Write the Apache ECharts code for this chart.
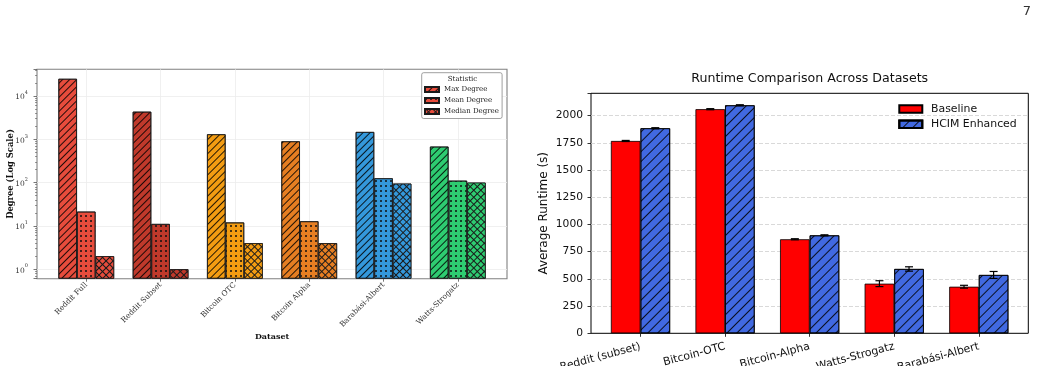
<!DOCTYPE html>
<html>
<head>
<meta charset="utf-8">
<script src="https://cdn.jsdelivr.net/npm/echarts@6/dist/echarts.min.js"></script>
<style>
  html, body { margin: 0; padding: 0; background: #fff; }
  #chart { width: 1040px; height: 366px; }
</style>
</head>
<body>
<div id="chart"></div>
<script>
  // left panel: degree statistics per dataset (log scale)
  const degreeDatasets = ['Reddit Full', 'Reddit Subset', 'Bitcoin OTC', 'Bitcoin Alpha', 'Barabási-Albert', 'Watts-Strogatz'];
  const datasetColors = ['#e74c3c', '#c0392b', '#f39c12', '#e67e22', '#3498db', '#2ecc71'];
  const maxDegree = [25000, 4350, 1310, 900, 1480, 680];
  const meanDegree = [21.4, 11.1, 12, 12.8, 126, 111];
  const medianDegree = [2, 1, 4, 4, 95, 100];
  const statNames = ['Max Degree', 'Mean Degree', 'Median Degree'];

  // right panel: runtime comparison
  const runtimeDatasets = ['Reddit (subset)', 'Bitcoin-OTC', 'Bitcoin-Alpha', 'Watts-Strogatz', 'Barabási-Albert'];
  const baselineRuntime = [1767, 2059, 864, 456, 428];
  const baselineErr = [5, 5, 5, 27, 13];
  const hcimRuntime = [1884, 2095, 900, 591, 536];
  const hcimErr = [5, 5, 5, 20, 32];
  const runtimeNames = ['Baseline', 'HCIM Enhanced'];

  const LOG_MIN = 0.603, LOG_MAX = 41450, RUN_MAX = 2205;
  const DEG_BAR_W = 18.58, RUN_BAR_W = 29.6;
  const serif = 'DejaVu Serif', sans = 'DejaVu Sans';

  const chart = echarts.init(document.getElementById('chart'));

  function diagDecal(gap) {
    return { symbol: 'rect', symbolSize: 1, color: 'rgba(0,0,0,0.85)', dashArrayX: [1, 0], dashArrayY: [1, gap], rotation: -Math.PI / 4 };
  }
  function dotDecal() {
    return { symbol: 'circle', symbolSize: 1, color: '#111', dashArrayX: [1.5, 2.3], dashArrayY: [1.5, 2.3], rotation: 0 };
  }
  // crosshatch: dark fill, coloured squares
  function crossDecal(color) {
    return { symbol: 'rect', symbolSize: 1, color: color, dashArrayX: [3.1, 1], dashArrayY: [3.1, 1], rotation: Math.PI / 4 };
  }

  function degreeSeries(name, values, kind) {
    const legendStyle = kind === 'cross'
      ? { color: '#1a1a1a', decal: crossDecal(datasetColors[0]) }
      : { color: datasetColors[0], decal: kind === 'diag' ? diagDecal(3.6) : dotDecal() };
    return {
      name: name, type: 'bar', xAxisIndex: 1, yAxisIndex: 1,
      barWidth: DEG_BAR_W, barGap: '0%',
      itemStyle: Object.assign({ borderColor: '#1a1a1a', borderWidth: 0.8 }, legendStyle),
      data: values.map((v, i) => {
        const c = datasetColors[i];
        const st = kind === 'cross'
          ? { color: '#1a1a1a', decal: crossDecal(c) }
          : { color: c, decal: kind === 'diag' ? diagDecal(3.6) : dotDecal() };
        return { value: v, itemStyle: st };
      })
    };
  }

  function errorSeries(values, errs, side) {
    return {
      type: 'custom', xAxisIndex: 3, yAxisIndex: 3, z: 5, silent: true,
      data: values.map((v, i) => [i, v, errs[i]]),
      renderItem: function (params, api) {
        const i = api.value(0), v = api.value(1), e = api.value(2);
        const top = api.coord([i, v + e]);
        const bot = api.coord([i, v - e]);
        const x = top[0] + side * RUN_BAR_W / 2;
        const cap = 4;
        const st = { stroke: '#000', lineWidth: 1.2 };
        return {
          type: 'group',
          children: [
            { type: 'line', shape: { x1: x, y1: top[1], x2: x, y2: bot[1] }, style: st },
            { type: 'line', shape: { x1: x - cap, y1: top[1], x2: x + cap, y2: top[1] }, style: st },
            { type: 'line', shape: { x1: x - cap, y1: bot[1], x2: x + cap, y2: bot[1] }, style: st }
          ]
        };
      }
    };
  }

  const option = {
    animation: false,
    backgroundColor: '#fff',
    graphic: [
      { type: 'text', z: 100, x: 1027, y: 12, style: { text: '7', font: '13px "DejaVu Sans"', fill: '#333', textAlign: 'center', textVerticalAlign: 'middle' } },
      { type: 'text', z: 100, x: 809.7, y: 79, style: { text: 'Runtime Comparison Across Datasets', font: '12.6px "DejaVu Sans"', fill: '#111', textAlign: 'center', textVerticalAlign: 'middle' } },
      { type: 'text', z: 100, x: 462.5, y: 79, style: { text: 'Statistic', font: '7px "DejaVu Serif"', fill: '#222', textAlign: 'center', textVerticalAlign: 'middle' } }
    ],
    legend: [
      {
        data: statNames, selectedMode: false, orient: 'vertical',
        left: 421.7, top: 72.7, padding: [12.8, 3.3, 3, 2.3],
        itemWidth: 14, itemHeight: 5, itemGap: 3, icon: 'rect',
        backgroundColor: '#fff', borderColor: '#888', borderWidth: 0.8, borderRadius: 2,
        textStyle: { fontFamily: serif, fontSize: 7, lineHeight: 8, color: '#222' }
      },
      {
        data: runtimeNames, selectedMode: false, orient: 'vertical',
        left: 898.3, top: 102.5, padding: 0,
        itemWidth: 23, itemHeight: 7.5, itemGap: 2.3, icon: 'rect',
        textStyle: { fontFamily: sans, fontSize: 10.9, lineHeight: 13, color: '#111', padding: [0, 0, 0, 3.7] }
      }
    ],
    grid: [
      { left: 37, top: 69.3, width: 470, height: 209.4, outerBoundsMode: 'none', show: true, borderColor: '#808080', borderWidth: 1.1, backgroundColor: '#fff' },
      { left: 49.1, top: 69.3, width: 445.9, height: 209.4, outerBoundsMode: 'none' },
      { left: 591, top: 93.3, width: 437.3, height: 240, outerBoundsMode: 'none', show: true, borderColor: '#000', borderWidth: 1, backgroundColor: '#fff' },
      { left: 598.2, top: 93.3, width: 422.9, height: 240, outerBoundsMode: 'none' }
    ],
    xAxis: [
      { gridIndex: 0, type: 'value', min: 0, max: 1, show: false },
      {
        gridIndex: 1, type: 'category', data: degreeDatasets,
        name: 'Dataset', nameLocation: 'middle', nameGap: 54, nameMoveOverlap: false,
        nameTextStyle: { fontFamily: serif, fontSize: 8, fontWeight: 'bold', color: '#111' },
        axisLine: { show: false },
        axisTick: { show: true, alignWithLabel: true, length: 3, lineStyle: { color: '#555', width: 0.8 } },
        axisLabel: { rotate: 45, margin: 5, fontFamily: serif, fontSize: 7.5, color: '#333', interval: 0 },
        splitLine: { show: false }
      },
      { gridIndex: 2, type: 'value', min: 0, max: 1, show: false },
      {
        gridIndex: 3, type: 'category', data: runtimeDatasets,
        axisLine: { show: false },
        axisTick: { show: true, alignWithLabel: true, length: 3.5, lineStyle: { color: '#000', width: 0.8 } },
        axisLabel: { rotate: 15, margin: 13, fontFamily: sans, fontSize: 10.9, color: '#111', interval: 0 },
        splitLine: { show: false }
      },
      // faint vertical grid at the category centres of the left panel
      {
        gridIndex: 1, type: 'value', min: -0.5, max: degreeDatasets.length - 0.5, position: 'top',
        axisLine: { show: false }, axisTick: { show: false }, axisLabel: { show: false },
        splitLine: { show: true, showMinLine: false, showMaxLine: false, lineStyle: { color: '#ececec', width: 0.8 } }
      }
    ],
    yAxis: [
      {
        gridIndex: 0, type: 'log', logBase: 10, min: LOG_MIN, max: LOG_MAX,
        name: 'Degree (Log Scale)', nameLocation: 'middle', nameGap: 22, nameMoveOverlap: false,
        nameTextStyle: { fontFamily: serif, fontSize: 8.4, fontWeight: 'bold', color: '#111' },
        axisLine: { show: false },
        axisTick: { show: true, length: 3.5, lineStyle: { color: '#555', width: 0.8 } },
        minorTick: { show: true, splitNumber: 9, length: 2, lineStyle: { color: '#555', width: 0.6 } },
        axisLabel: {
          margin: 9,
          formatter: function (v) {
            const e = Math.log10(v), r = Math.round(e);
            if (Math.abs(e - r) > 1e-6) return '';
            return '{b|10}{s|' + r + '}';
          },
          rich: {
            b: { fontFamily: serif, fontSize: 7.5, color: '#333', lineHeight: 11, verticalAlign: 'bottom' },
            s: { fontFamily: serif, fontSize: 5, color: '#333', lineHeight: 11, verticalAlign: 'top' }
          }
        },
        splitLine: { show: true, showMinLine: false, showMaxLine: false, lineStyle: { color: '#ececec', width: 0.8 } }
      },
      { gridIndex: 1, type: 'log', logBase: 10, min: LOG_MIN, max: LOG_MAX, startValue: LOG_MIN, show: false },
      {
        gridIndex: 2, type: 'value', min: 0, max: RUN_MAX, interval: 250,
        name: 'Average Runtime (s)', nameLocation: 'middle', nameGap: 41,
        nameTextStyle: { fontFamily: sans, fontSize: 12, color: '#111' },
        axisLine: { show: false },
        axisTick: { show: true, length: 3.5, lineStyle: { color: '#000', width: 0.8 } },
        axisLabel: {
          margin: 8, fontFamily: sans, fontSize: 10.7, color: '#111',
          formatter: function (v) { return v % 250 === 0 ? String(v) : ''; }
        },
        splitLine: { show: true, showMinLine: false, showMaxLine: false, lineStyle: { color: '#cfcfcf', type: [4, 2], width: 0.8 } }
      },
      { gridIndex: 3, type: 'value', min: 0, max: RUN_MAX, show: false }
    ],
    series: [
      degreeSeries(statNames[0], maxDegree, 'diag'),
      degreeSeries(statNames[1], meanDegree, 'dot'),
      degreeSeries(statNames[2], medianDegree, 'cross'),
      {
        name: runtimeNames[0], type: 'bar', xAxisIndex: 3, yAxisIndex: 3,
        barWidth: RUN_BAR_W, barGap: '0%',
        itemStyle: { color: '#ff0000', borderColor: '#000', borderWidth: 0.8 },
        data: baselineRuntime
      },
      {
        name: runtimeNames[1], type: 'bar', xAxisIndex: 3, yAxisIndex: 3,
        barWidth: RUN_BAR_W, barGap: '0%',
        itemStyle: { color: '#4169e1', borderColor: '#000', borderWidth: 0.8, decal: diagDecal(6) },
        data: hcimRuntime
      },
      errorSeries(baselineRuntime, baselineErr, -1),
      errorSeries(hcimRuntime, hcimErr, 1)
    ]
  };

  chart.setOption(option);
</script>
</body>
</html>
